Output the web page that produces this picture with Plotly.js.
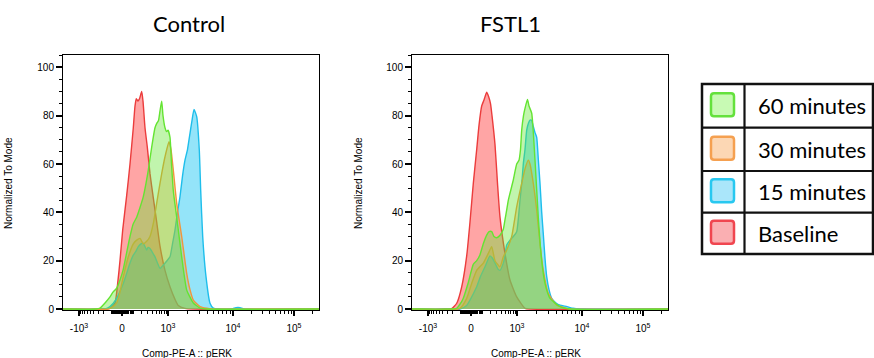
<!DOCTYPE html>
<html>
<head>
<meta charset="utf-8">
<script src="https://cdn.plot.ly/plotly-3.0.1.min.js"></script>
<style>html,body{margin:0;padding:0;background:#fff;}#chart{width:874px;height:358px;}</style>
</head>
<body>
<div id="chart"></div>
<script>
// ---- Data (x = display channel 0..256 on the biexponential pERK axis, y = % of mode) ----
const panelTitles = ["Control", "FSTL1"];
const seriesNames = ["Baseline", "15 minutes", "30 minutes", "60 minutes"];

const ctrlBaseX = [0, 37, 47, 52, 54.7, 57, 59.7, 63.7, 67, 70.3, 72, 73.3, 75, 76.5, 78.7, 80, 82, 84.3, 87, 90.3, 93.7, 97, 102, 107, 112, 115.3, 122, 132, 256];
const ctrlBaseY = [0, 0, 0.3, 2.5, 10.7, 20, 32.7, 47, 60, 75, 84, 87, 86, 87, 90, 86, 75, 67, 56, 46, 36, 26, 16, 9.2, 4, 1.5, 0.3, 0, 0];

const ctrl15X = [0, 42, 47, 53, 60.3, 67, 70.3, 73, 75.3, 78, 80.3, 83.7, 85, 87, 90, 92, 95, 97, 100.3, 104, 107, 109.5, 112, 114.5, 117, 119.5, 122, 124.5, 127, 129, 131, 133.7, 136.3, 137.7, 139.7, 143, 147, 150.3, 155, 169, 173, 177, 181, 256];
const ctrl15Y = [0, 0, 1, 4, 10.6, 19, 22.3, 24, 25.8, 27, 27.2, 24.4, 25.5, 25, 23, 21.6, 18.5, 16.8, 18.2, 20, 21.6, 27, 32.7, 40, 46.5, 55, 61.6, 66, 72.7, 78, 82.6, 79.6, 65.8, 49, 30, 13.4, 2.4, 0.4, 0, 0, 0.6, 0.6, 0, 0];

const ctrl30X = [0, 45, 50, 53.7, 57, 60.3, 65.3, 70.3, 73.7, 77, 80.3, 83.7, 87, 90.3, 95.3, 98.7, 102, 106, 108, 110.3, 113.7, 118.7, 123.7, 127, 130.3, 137, 143.7, 149, 256];
const ctrl30Y = [0, 0, 1, 2.5, 7, 13.4, 21.6, 27, 28.5, 29.2, 27, 28, 30, 35.4, 47.9, 56, 63, 69.2, 66, 57.5, 43.7, 30, 14.8, 8, 3.7, 1, 0.3, 0, 0];

const ctrl60X = [0, 33, 37, 42, 47, 50, 53.7, 57, 60, 63.5, 67, 70, 73.7, 77, 80.3, 83, 85.3, 88.7, 92, 94, 95.5, 97, 98.7, 100, 102, 103.7, 105, 107, 108.5, 110.3, 113.7, 118.7, 123.7, 130.3, 137, 143, 256];
const ctrl60Y = [0, 0, 0.4, 2.5, 5, 7, 8.6, 12, 16, 23, 30, 35, 38, 42, 46.5, 52, 57.5, 67, 75, 77, 78, 82, 86, 80, 75, 73.4, 74, 71, 60, 49, 38, 21.6, 7.9, 2.5, 0.4, 0, 0];

const fstlBaseX = [0, 33, 39.7, 44.7, 49.7, 54.7, 58, 61.3, 64.7, 67, 69.7, 72, 74.7, 76.5, 78.5, 80, 83, 85.5, 88, 93, 98, 104.7, 113, 118, 256];
const fstlBaseY = [0, 0, 0.2, 2.4, 9.2, 22, 36, 52, 66, 76, 84, 86.5, 89.7, 88, 85, 80, 68, 52, 38, 23, 12, 5, 0.3, 0, 0];

const fstl15X = [0, 48, 54.7, 58, 64.7, 68, 73, 78, 80.5, 83, 86, 88, 91.3, 93, 94.7, 98, 101.3, 104.7, 106.5, 108, 110, 111.3, 113, 114.7, 116.5, 118, 119.7, 121, 123, 124.7, 126.3, 128, 129.7, 131.3, 133, 134.7, 137, 139.7, 144, 148, 155, 161, 168, 256];
const fstl15Y = [0, 0, 1.5, 3.7, 9.2, 13, 17.5, 22, 21, 19, 16.5, 16, 19, 22, 26.5, 28.5, 30, 32, 38, 45, 53, 60, 66, 74, 77, 78.2, 78, 76, 73, 71, 62, 52, 40, 31, 21, 13.4, 8, 4.4, 2.5, 1.6, 1, 0.3, 0, 0];

const fstl30X = [0, 48, 54.7, 59.7, 64.7, 71.3, 76.3, 79.7, 83, 88, 91.3, 94.7, 99.7, 104.7, 109.7, 113, 116.3, 118, 121.3, 124.7, 128, 131.3, 136.3, 144.7, 153, 158, 256];
const fstl30Y = [0, 0.3, 4.4, 10.6, 16, 19, 23, 25.8, 20, 17.5, 21.6, 24.4, 30, 42.3, 52, 58, 61.6, 60, 52, 41, 27, 16, 6.5, 1.6, 0.5, 0, 0];

const fstl60X = [0, 38, 44.7, 48, 51.3, 56.3, 61.3, 64.7, 68, 71.3, 74.7, 77, 79.7, 82, 84.7, 88, 91.3, 93, 94.7, 96.3, 98, 101.3, 104.7, 107, 108.5, 109.7, 111.5, 113, 115.5, 117, 119.7, 123, 126.3, 129.7, 133, 138, 148, 158, 256];
const fstl60Y = [0, 0, 0.3, 2, 4.5, 11, 18.5, 20, 22.5, 27, 30.6, 32, 32, 30, 29.5, 30.5, 33, 37, 41, 45, 47.9, 53.4, 60, 61.6, 66, 74, 80, 83, 86.7, 84, 81, 61.6, 38, 20, 10.6, 4.4, 1, 0, 0];

// x-axis tick labels and their channel positions
const xTickValues = [-1000, 0, 1000, 10000, 100000];
const xTickLabels = ["-10<sup>3</sup>", "0", "10<sup>3</sup>", "10<sup>4</sup>", "10<sup>5</sup>"];
const xTickChannels = [16, 59, 105, 170, 231];
const yTickVals = [0, 20, 40, 60, 80, 100];

// ---- styling ----
const lineColors = ["rgb(235,60,60)", "rgb(30,190,235)", "rgb(240,150,60)", "rgb(100,228,50)"];
const fillColors = ["rgba(255,40,40,0.42)", "rgba(0,190,240,0.42)", "rgba(245,150,60,0.34)", "rgba(100,230,50,0.40)"];

// channel position of a pERK value on the biexponential axis (for minor ticks)
function chOf(v) {
  const c0 = xTickChannels[1];
  if (v >= 10000) return xTickChannels[3] + (xTickChannels[4] - xTickChannels[3]) * Math.log10(v / 10000);
  if (v >= 1000) return xTickChannels[2] + (xTickChannels[3] - xTickChannels[2]) * Math.log10(v / 1000);
  const a = Math.asinh(Math.abs(v) / 150) / Math.asinh(1000 / 150);
  return v >= 0 ? c0 + (xTickChannels[2] - c0) * a : c0 - (c0 - xTickChannels[0]) * a;
}
const minorVals = [];
for (let k = 1; k <= 9; k++) { minorVals.push(chOf(k * 10), chOf(-k * 10)); }
for (let k = 1; k <= 9; k++) { minorVals.push(chOf(k * 100), chOf(-k * 100)); }
for (let k = 2; k <= 9; k++) { minorVals.push(chOf(k * 1000), chOf(k * 10000)); }
minorVals.push(chOf(200000));

const W = 874, H = 358;
const PX = x => x / W, PY = y => 1 - y / H;

const panels = [
  { xs: [ctrlBaseX, ctrl15X, ctrl30X, ctrl60X], ys: [ctrlBaseY, ctrl15Y, ctrl30Y, ctrl60Y], xa: 'x', ya: 'y' },
  { xs: [fstlBaseX, fstl15X, fstl30X, fstl60X], ys: [fstlBaseY, fstl15Y, fstl30Y, fstl60Y], xa: 'x2', ya: 'y2' }
];
const traces = [];
panels.forEach(p => {
  for (let i = 0; i < 4; i++) {
    traces.push({
      type: 'scatter', mode: 'lines', x: p.xs[i], y: p.ys[i], xaxis: p.xa, yaxis: p.ya,
      name: seriesNames[i], showlegend: false, fill: 'tozeroy', fillcolor: fillColors[i],
      line: { color: lineColors[i], width: 1.4, shape: 'spline', smoothing: 0.5 }, hoverinfo: 'skip'
    });
  }
});

const tickFont = { family: 'Liberation Sans, Arial, sans-serif', size: 10, color: '#000' };
function xAxis(domain, anchor) {
  return {
    domain: domain, anchor: anchor, range: [0, 256], showline: true, mirror: true, linecolor: '#000', linewidth: 1,
    showgrid: false, zeroline: false, ticks: 'outside', tickmode: 'array', tickvals: xTickChannels, ticktext: xTickLabels,
    ticklen: 5, tickwidth: 2, tickcolor: '#000', tickfont: tickFont, ticklabelstandoff: 4, fixedrange: true,
    minor: { tickmode: 'array', tickvals: minorVals, ticks: 'outside', ticklen: 3, tickwidth: 1, tickcolor: '#000', showgrid: false }
  };
}
function yAxis(anchor) {
  return {
    domain: [PY(310), PY(55)], anchor: anchor, range: [-0.4, 105.1], showline: true, mirror: true, linecolor: '#000', linewidth: 1,
    showgrid: false, zeroline: false, ticks: 'outside', tickmode: 'array', tickvals: yTickVals,
    ticklen: 6, tickwidth: 2, tickcolor: '#000', tickfont: tickFont, fixedrange: true,
    minor: { dtick: 5, tick0: 0, ticks: 'outside', ticklen: 3, tickwidth: 1, tickcolor: '#000', showgrid: false }
  };
}

// legend table
const shapes = [];
const annotations = [];
const lg = { x0: 702, x1: 873, y0: 84, y1: 254, col: 744.5, rows: [127.7, 171, 212.7] };
shapes.push({ type: 'rect', xref: 'paper', yref: 'paper', x0: PX(lg.x0), x1: PX(lg.x1), y0: PY(lg.y1), y1: PY(lg.y0), line: { color: '#111', width: 2.5 }, fillcolor: '#fff', layer: 'below' });
shapes.push({ type: 'line', xref: 'paper', yref: 'paper', x0: PX(lg.col), x1: PX(lg.col), y0: PY(lg.y1), y1: PY(lg.y0), line: { color: '#111', width: 2.2 } });
lg.rows.forEach(r => shapes.push({ type: 'line', xref: 'paper', yref: 'paper', x0: PX(lg.x0), x1: PX(lg.x1), y0: PY(r), y1: PY(r), line: { color: '#111', width: 2.2 } }));
function rrect(x0, y0, x1, y1, r) {
  const f = (x, y) => PX(x).toFixed(5) + ',' + PY(y).toFixed(5);
  return 'M' + f(x0 + r, y0) + ' L' + f(x1 - r, y0) + ' Q' + f(x1, y0) + ' ' + f(x1, y0 + r) +
    ' L' + f(x1, y1 - r) + ' Q' + f(x1, y1) + ' ' + f(x1 - r, y1) + ' L' + f(x0 + r, y1) +
    ' Q' + f(x0, y1) + ' ' + f(x0, y1 - r) + ' L' + f(x0, y0 + r) + ' Q' + f(x0, y0) + ' ' + f(x0 + r, y0) + ' Z';
}
const legendOrder = [3, 2, 1, 0];
const legendBorder = ["rgb(240,70,80)", "rgb(40,200,240)", "rgb(245,160,80)", "rgb(100,225,60)"];
const legendFill = ["rgb(250,175,178)", "rgb(170,230,250)", "rgb(252,215,180)", "rgb(200,250,180)"];
const rowTop = [lg.y0].concat(lg.rows), rowBot = lg.rows.concat([lg.y1]);
legendOrder.forEach((si, k) => {
  const cy = (rowTop[k] + rowBot[k]) / 2 - 1;
  shapes.push({ type: 'path', xref: 'paper', yref: 'paper', path: rrect(711, cy - 11.5, 734, cy + 11.5, 3), fillcolor: legendFill[si], line: { color: legendBorder[si], width: 2.5 } });
  annotations.push({ xref: 'paper', yref: 'paper', x: PX(756), y: PY(cy + 1), xanchor: 'left', yanchor: 'middle', showarrow: false, text: seriesNames[si], font: { family: 'Lato, Open Sans, sans-serif', size: 22, color: '#000' } });
});

// panel titles and axis titles
const titleFont = { family: 'Lato, Open Sans, sans-serif', size: 22, color: '#000' };
const axFont = { family: 'Liberation Sans, Arial, sans-serif', size: 10, color: '#000' };
[[189, 8, 187], [511, 358, 536]].forEach((c, i) => {
  annotations.push({ xref: 'paper', yref: 'paper', x: PX(c[0]), y: PY(23), xanchor: 'center', yanchor: 'middle', showarrow: false, text: panelTitles[i], font: titleFont });
  annotations.push({ xref: 'paper', yref: 'paper', x: PX(c[1]), y: PY(183), xanchor: 'center', yanchor: 'middle', textangle: -90, showarrow: false, text: 'Normalized To Mode', font: axFont });
  annotations.push({ xref: 'paper', yref: 'paper', x: PX(c[2]), y: PY(353), xanchor: 'center', yanchor: 'middle', showarrow: false, text: 'Comp-PE-A :: pERK', font: axFont });
});

const layout = {
  width: W, height: H, margin: { l: 0, r: 0, t: 0, b: 0 }, paper_bgcolor: '#fff', plot_bgcolor: '#fff', showlegend: false,
  xaxis: xAxis([PX(63), PX(319)], 'y'), yaxis: yAxis('x'),
  xaxis2: xAxis([PX(412), PX(668)], 'y2'), yaxis2: yAxis('x2'),
  shapes: shapes, annotations: annotations
};
Plotly.newPlot('chart', traces, layout, { staticPlot: true, displayModeBar: false });
</script>
</body>
</html>
